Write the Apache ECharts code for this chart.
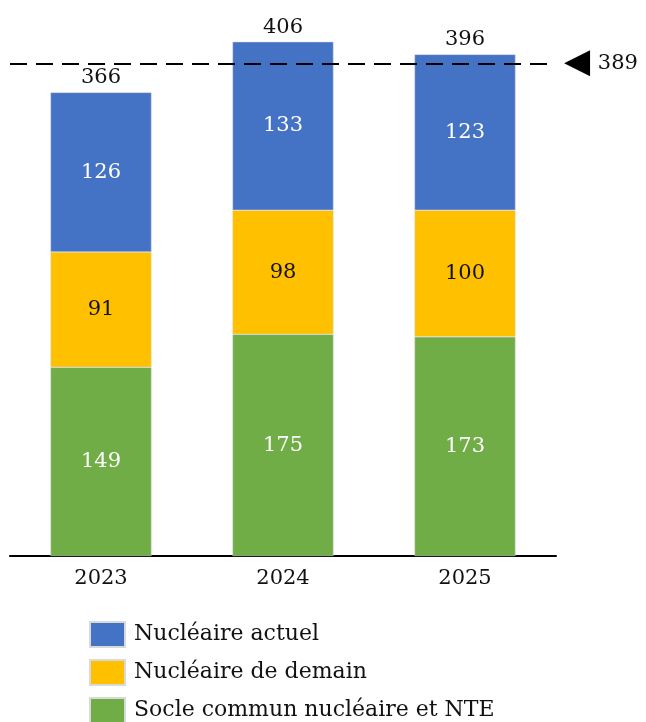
<!DOCTYPE html>
<html><head><meta charset="utf-8">
<script src="https://cdn.jsdelivr.net/npm/echarts@6/dist/echarts.min.js"></script>
<style>html,body{margin:0;padding:0;background:#fff}#c{width:646px;height:722px}</style>
</head><body><div id="c"></div>
<script>
const categories = ['2023', '2024', '2025'];
const socle = [149, 175, 173];
const demain = [91, 98, 100];
const actuel = [126, 133, 123];
const totals = [366, 406, 396];
const target = 389;
const names = ['Nucléaire actuel', 'Nucléaire de demain', 'Socle commun nucléaire et NTE'];

const FONT = 'DejaVu Serif';
const FS = 21;
const chart = echarts.init(document.getElementById('c'), null, {renderer: 'canvas'});
const lbl = (color) => ({show: true, position: 'inside', color: color, fontFamily: FONT, fontSize: FS});
chart.setOption({
  animation: false,
  textStyle: {fontFamily: FONT},
  grid: {left: 10, right: 90, top: 24, bottom: 166},
  legend: {
    orient: 'vertical', left: 84, top: 616, height: 110, itemWidth: 35, itemHeight: 25, itemGap: 11,
    icon: 'rect', data: names,
    textStyle: {fontFamily: FONT, fontSize: 22, color: '#111', padding: [0, 0, 0, 4]}
  },
  xAxis: {
    type: 'category', data: categories,
    axisLine: {lineStyle: {color: '#000', width: 2}},
    axisTick: {show: false},
    axisLabel: {fontFamily: FONT, fontSize: FS, color: '#111', margin: 12}
  },
  yAxis: {type: 'value', min: 0, max: 420, show: false, splitLine: {show: false}},
  series: [
    {name: names[2], type: 'bar', stack: 't', data: socle, barWidth: 101,
      itemStyle: {color: '#70AD47', borderColor: '#d9d9d9', borderWidth: 0.5}, label: lbl('#fff')},
    {name: names[1], type: 'bar', stack: 't', data: demain,
      itemStyle: {color: '#FFC000', borderColor: '#d9d9d9', borderWidth: 0.5}, label: lbl('#111')},
    {name: names[0], type: 'bar', stack: 't', data: actuel,
      itemStyle: {color: '#4472C4', borderColor: '#d9d9d9', borderWidth: 0.5}, label: lbl('#fff'),
      markLine: {
        silent: true, symbol: ['none', 'none'],
        lineStyle: {color: '#000', type: [17, 9], width: 2},
        label: {
          show: true, position: 'end', distance: 8,
          formatter: () => '{t|◀}  {n|' + target + '}',
          rich: {t: {fontFamily: 'DejaVu Sans', fontSize: 34, color: '#000'},
                 n: {fontFamily: FONT, fontSize: FS, color: '#111'}}
        },
        data: [{yAxis: target}]
      }},
    {name: 'total', type: 'scatter', data: totals, symbolSize: 0, itemStyle: {opacity: 1},
      label: {show: true, position: 'top', distance: 4, color: '#111', fontFamily: FONT, fontSize: FS,
        formatter: p => p.value}}
  ]
});
</script></body></html>
